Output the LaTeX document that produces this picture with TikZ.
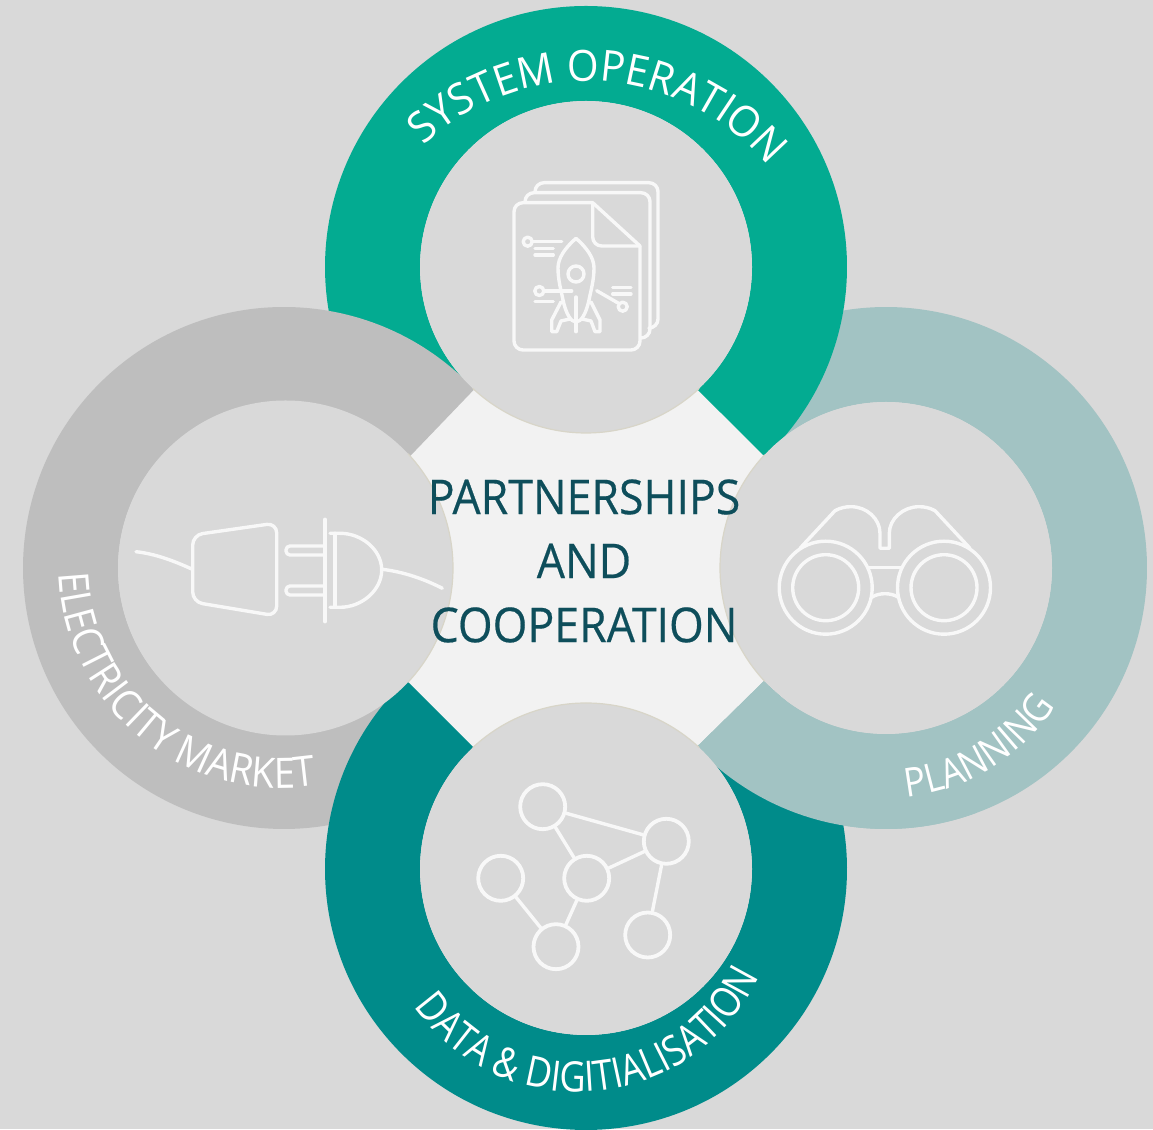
\documentclass[tikz,border=0pt]{standalone}
\usepackage{fontspec}
\usepackage{tikz}
\usetikzlibrary{decorations.text}
\setmainfont{Open Sans}
\newfontfamily\centrefont[FakeStretch=0.93,FakeBold=0.4]{Open Sans}
\newfontfamily\systemfont[FakeStretch=0.95]{Open Sans}
\newfontfamily\datafont[FakeStretch=0.86]{Open Sans}
\newfontfamily\marketfont[FakeStretch=0.91]{Open Sans}
\newfontfamily\planningfont[FakeStretch=0.90]{Open Sans}
\definecolor{pagegrey}{HTML}{D9D9D9}
\definecolor{ringtop}{HTML}{03AB91}
\definecolor{ringright}{HTML}{A2C3C3}
\definecolor{ringbottom}{HTML}{008B8A}
\definecolor{ringleft}{HTML}{BEBEBE}
\definecolor{centrefill}{HTML}{F2F2F2}
\definecolor{discedge}{HTML}{D8D5C8}
\definecolor{centretext}{HTML}{0E4E5B}
\definecolor{iconwhite}{HTML}{F8F8F8}
\newcommand{\ringtext}[1]{\fontsize{#1}{#1}\selectfont\color{white}}
\tikzset{
  icon/.style={draw=iconwhite,line width=3.4pt,line cap=round,line join=round},
  netnode/.style={circle,draw=iconwhite,line width=3.8pt,inner sep=0pt,minimum size=45pt},
  ringlabel/.style={decorate,decoration={text along path,text align=center,text={#1}}}
}

\begin{document}
\begin{tikzpicture}[x=1pt,y=1pt]
  \useasboundingbox (0,0) rectangle (1153,1129);
  \fill[pagegrey] (0,0) rectangle (1153,1129);

  \begin{scope}[y=-1pt,yshift=1129pt]
    \fill[centrefill] (470,380) -- (700,380) -- (775,455) -- (775,684) -- (700,755)
      -- (470,755) -- (398,684) -- (398,455) -- cycle;
  \end{scope}

  % the last entry lays the lower end of the right ring over the bottom ring
  \foreach \cx/\cy/\from/\fromin/\to/\col in {886/561/-136.6/-137.2/135/ringright, 586/862/-46.7/-47.7/225/ringtop,
    284/561/43.2/41.5/315/ringleft, 586/260/133.6/132.8/405/ringbottom, 886/561/-136.6/-137.2/-70/ringright}
      \fill[\col] (\cx,\cy) ++(\from:261) arc[start angle=\from,end angle=\to,radius=261]
        -- ([shift={(\to:166)}]\cx,\cy) arc[start angle=\to,end angle=\fromin,radius=166] -- cycle;

  \foreach \cx/\cy/\rad/\from in {586/862/166/227, 886/561/166/137, 586/260/166/47, 285.5/561/167.5/-43} {
    \fill[pagegrey] (\cx,\cy) circle (\rad);
    \draw[discedge,line width=1.2pt] (\cx,\cy) ++(\from:\rad) arc[start angle=\from,delta angle=86,radius=\rad];
  }

  \node[align=center,text=centretext,font=\centrefont\fontsize{48}{64}\selectfont] (partners) at (584,568)
    {PARTNERSHIPS\\AND\\COOPERATION};

  \path[ringlabel={|\systemfont\ringtext{43}|SYSTEM OPERATION}] (586,811) ++(156:237) arc[start angle=156,end angle=17,radius=237];
  \path[ringlabel={|\datafont\ringtext{42}|DATA {\&} DIGITIALISATION}] (578,237) ++(184:200) arc[start angle=184,end angle=366,radius=200];
  \path[ringlabel={|\marketfont\ringtext{42}|ELECTRICITY MARKET}] (281,563) ++(161:222) arc[start angle=161,end angle=300,radius=222];
  \path[ringlabel={|\planningfont\ringtext{40}|PLANNING}] (887,531) ++(246:200) arc[start angle=246,end angle=357,radius=200];

  \begin{scope}[y=-1pt,yshift=1129pt]
    % document icon
    \draw[icon,rounded corners=9pt] (592.7,202.7) -- (514,202.7) -- (514,350) -- (640,350) -- (640,246);
    \draw[icon] (592.7,202.7) -- (640,246);
    \draw[icon,rounded corners=9pt] (592.7,202.7) -- (592.7,246) -- (640,246);
    \draw[icon,rounded corners=9pt] (525,202) -- (525,192.7) -- (650,192.7) -- (650,338) -- (641,338);
    \draw[icon,rounded corners=9pt] (535,192) -- (535,182.7) -- (658,182.7) -- (658,328) -- (650,328);
    \draw[icon] (576,238.3) .. controls (565,248) and (558,258) .. (558,268)
      .. controls (558,280) and (561,290) .. (563,300)
      .. controls (566,314) and (571,322) .. (576,322)
      .. controls (581,322) and (586,314) .. (589,300)
      .. controls (591,290) and (594,280) .. (594,268)
      .. controls (594,258) and (587,248) .. (576,238.3);
    \draw[icon] (561,302) -- (551.7,320) -- (551.7,331.7) -- (556.7,331.7) -- (561,321) -- (570,319);
    \draw[icon] (591,302) -- (600,320) -- (600,331.7) -- (595,331.7) -- (591,321) -- (582,319);
    \draw[icon] (576,297) -- (576,331.7);
    \draw[icon] (576,274) circle (8pt);
    \draw[icon] (527.7,241.7) circle (4.5pt);
    \draw[icon] (532.5,241.7) -- (561.7,241.7);
    \draw[icon] (535,248.3) -- (553.3,248.3);
    \draw[icon] (535,255) -- (553.3,255);
    \draw[icon] (539.3,291) circle (4.5pt);
    \draw[icon] (544,291) -- (571.7,291);
    \draw[icon] (535,301.7) -- (553.3,301.7);
    \draw[icon] (622.7,306.7) circle (4.5pt);
    \draw[icon] (596.7,290.7) -- (618,303);
    \draw[icon] (612.7,287.3) -- (631,287.3);
    \draw[icon] (612.7,294) -- (631,294);

    % plug icon
    \draw[icon] (136,551.7) .. controls (156,554) and (174,561) .. (191.7,569);
    \draw[icon,rounded corners=10pt] (192.7,535) -- (276.7,523) -- (276.7,616) -- (192.7,602) -- cycle;
    \draw[icon,rounded corners=4pt] (323.3,546) -- (286,546) -- (286,555) -- (323.3,555);
    \draw[icon,rounded corners=4pt] (323.3,586) -- (286,586) -- (286,595) -- (323.3,595);
    \draw[icon] (325,519.3) -- (325,621.7);
    \draw[icon] (330,533.3) -- (340,533.3) .. controls (362,533.3) and (381.7,550) .. (381.7,570)
      .. controls (381.7,590) and (362,607.3) .. (340,607.3) -- (330,607.3);
    \draw[icon] (335,533.3) -- (335,607.3);
    \draw[icon] (382.3,569.3) .. controls (404,572) and (424,579) .. (442.3,588.3);

    % binoculars icon
    \draw[icon] (825.7,587.7) circle (46.5pt);
    \draw[icon] (825.7,587.7) circle (33pt);
    \draw[icon] (944,587.7) circle (46.5pt);
    \draw[icon] (944,587.7) circle (33pt);
    \draw[icon] (800,548.3) -- (835,510.7) .. controls (840,508) and (845,506.7) .. (851,506.7)
      .. controls (867,506.7) and (880,519) .. (880,533.3) -- (880,548.3) -- (889.3,548.3) -- (889.3,533.3)
      .. controls (889.3,519) and (903,506.7) .. (919,506.7)
      .. controls (925,506.7) and (930,508) .. (935,510.7) -- (970,548.3);
    \draw[icon] (868.3,567.7) -- (901.7,567.7);
    \draw[icon] (871.7,597.3) .. controls (879,592.5) and (891,592.5) .. (898.3,597.3);

    % network icon
    \node[netnode] (neta) at (542.7,806.7) {};
    \node[netnode] (netb) at (666.3,841.3) {};
    \node[netnode] (netc) at (586.7,878.3) {};
    \node[netnode] (netd) at (500.7,878.3) {};
    \node[netnode] (nete) at (556,946.7) {};
    \node[netnode] (netf) at (647.7,935) {};
    \foreach \from/\to in {neta/netb, neta/netc, netb/netc, netb/netf, netc/nete, netd/nete}
      \draw[icon] (\from) -- (\to);
  \end{scope}
\end{tikzpicture}
\end{document}
